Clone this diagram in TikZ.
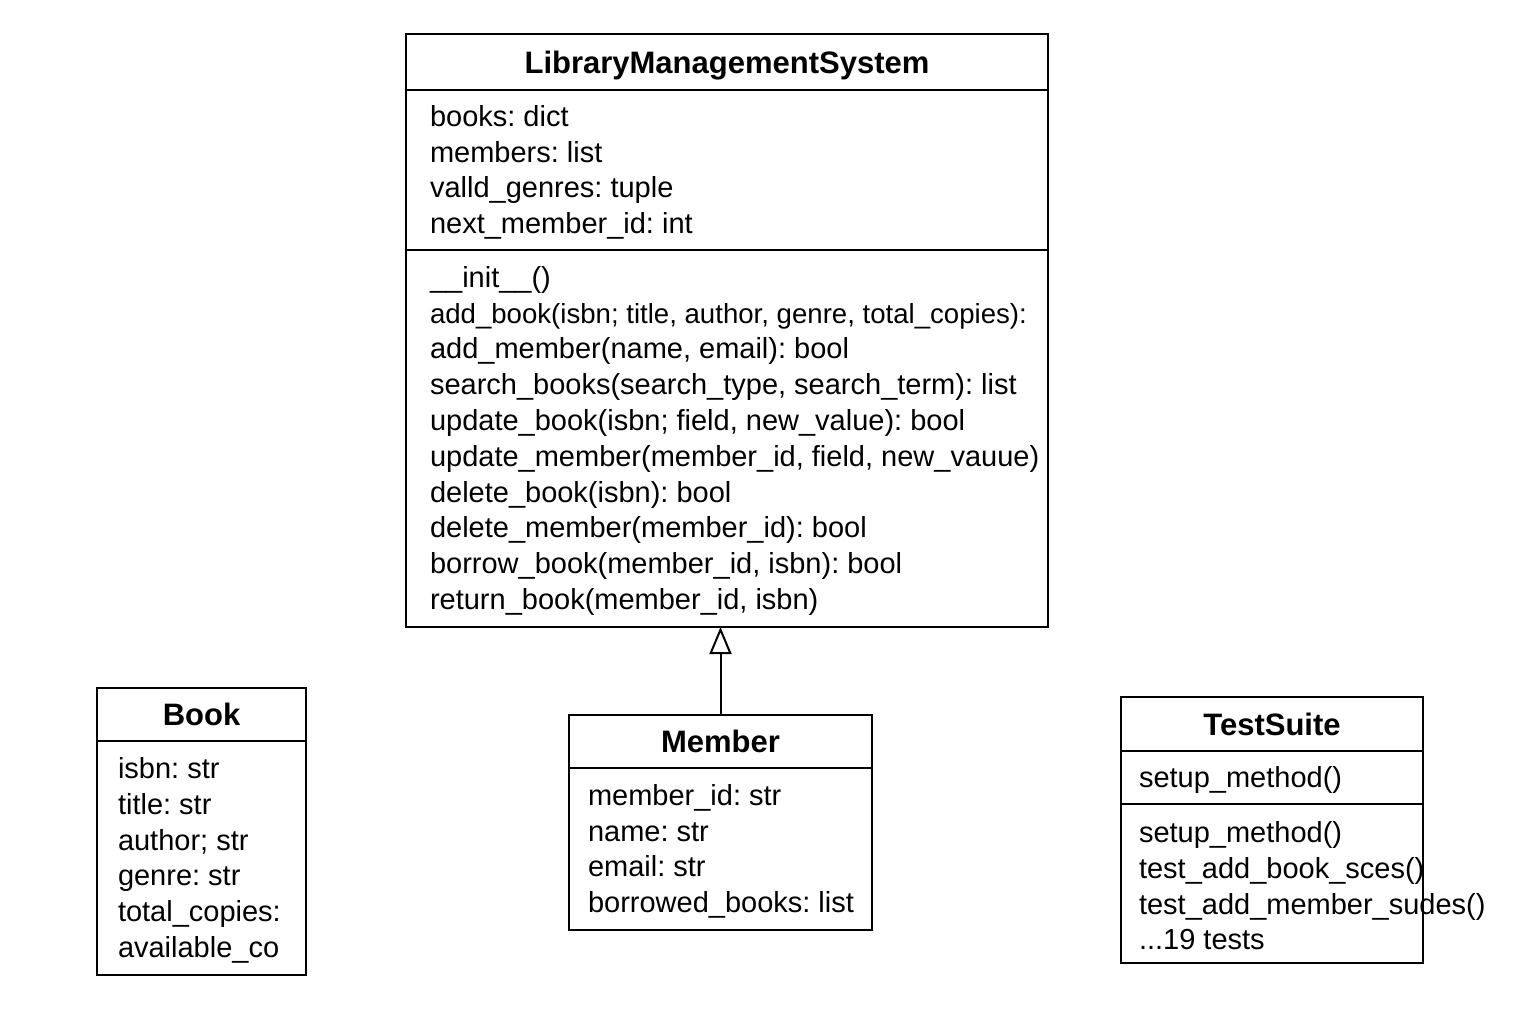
\documentclass[tikz,border=0pt]{standalone}
\usepackage{fontspec}
\setmainfont{Liberation Sans}
\usetikzlibrary{arrows.meta, positioning}
\frenchspacing

\begin{document}
\begin{tikzpicture}[
  x=0.5pt, y=-0.5pt,
  line width=1pt,
  head/.style   ={draw, outer sep=0pt, inner sep=0pt, anchor=north west,
                  text depth=0pt, font=\fontsize{15.5}{18}\selectfont\bfseries},
  part/.style   ={draw, outer sep=0pt, inner sep=0pt},
  txt/.style    ={align=left, inner sep=0pt, yshift=-1.2pt,
                  font=\fontsize{14.5}{17.9}\selectfont},
  inherit/.style={-{Triangle[open, width=11pt, length=13.5pt]}, line width=1pt},
]
\useasboundingbox (0,0) rectangle (1536,1024);

% LibraryManagementSystem
\node[head, minimum width=321pt, minimum height=28pt] (lms) at (406,34)
  {LibraryManagementSystem};
\node[part, below=0pt of lms, minimum width=321pt, minimum height=80pt] (lmsAttr) {};
\node[part, below=0pt of lmsAttr, minimum width=321pt, minimum height=188.5pt] (lmsOps) {};
\node[txt, right=11.5pt of lmsAttr.west] (lmsAttrTxt)
  {books: dict\\
   members: list\\
   valld\_genres: tuple\\
   next\_member\_id: int};
\node[txt, right=11.5pt of lmsOps.west] (lmsOpsTxt)
  {\_\_init\_\_()\\
   {\fontsize{13.8}{17.9}\selectfont add\_book(isbn; title, author, genre, total\_copies):}\\
   add\_member(name, email): bool\\
   search\_books(search\_type, search\_term): list\\
   update\_book(isbn; field, new\_value): bool\\
   update\_member(member\_id, field, new\_vauue)\\
   delete\_book(isbn): bool\\
   delete\_member(member\_id): bool\\
   borrow\_book(member\_id, isbn): bool\\
   return\_book(member\_id, isbn)};

% Book
\node[head, minimum width=104.5pt, minimum height=26.5pt] (book) at (97,688) {Book};
\node[part, below=0pt of book, minimum width=104.5pt, minimum height=117pt] (bookAttr) {};
\node[txt, right=10pt of bookAttr.west] (bookAttrTxt)
  {isbn: str\\
   title: str\\
   author; str\\
   genre: str\\
   total\_copies:\\
   available\_co};

% Member
\node[head, minimum width=151.5pt, minimum height=26.5pt] (mem) at (569,715) {Member};
\node[part, below=0pt of mem, minimum width=151.5pt, minimum height=81pt] (memAttr) {};
\node[txt, right=9pt of memAttr.west] (memAttrTxt)
  {member\_id: str\\
   name: str\\
   email: str\\
   borrowed\_books: list};

% TestSuite
\node[head, minimum width=151pt, minimum height=27pt] (ts) at (1121,697) {TestSuite};
\node[part, below=0pt of ts, minimum width=151pt, minimum height=26.5pt] (tsAttr) {};
\node[part, below=0pt of tsAttr, minimum width=151pt, minimum height=79.5pt] (tsOps) {};
\node[txt, right=8.5pt of tsAttr.west] (tsAttrTxt) {setup\_method()};
\node[txt, right=8.5pt of tsOps.west] (tsOpsTxt)
  {setup\_method()\\
   test\_add\_book\_sces()\\
   test\_add\_member\_sudes()\\
   ...19 tests};

% inheritance
\draw[inherit] (mem.north) -- (mem.north |- lmsOps.south);
\end{tikzpicture}
\end{document}
